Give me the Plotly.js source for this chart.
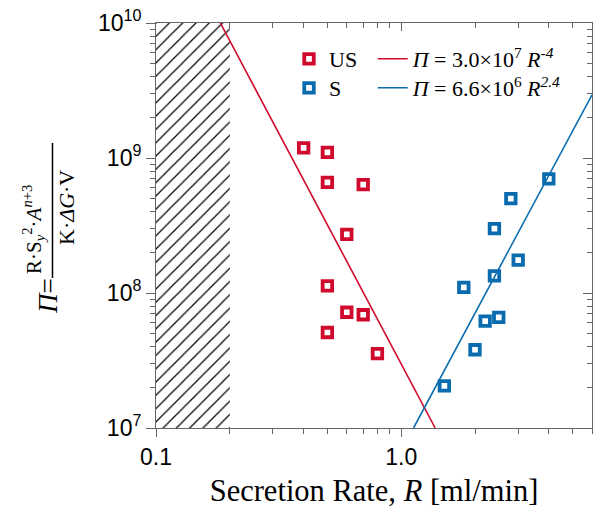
<!DOCTYPE html>
<html><head><meta charset="utf-8">
<script src="https://cdn.plot.ly/plotly-3.0.1.min.js"></script>
<style>html,body{margin:0;padding:0;background:#fff}#chart{width:595px;height:509px}</style>
</head><body><div id="chart"></div>
<script>
// Data
const usRate = [0.4, 0.5, 0.5, 0.7, 0.6, 0.5, 0.6, 0.7, 0.5, 0.8];
const usPi   = [1.19e9, 1.10e9, 6.6e8, 6.35e8, 2.72e8, 1.13e8, 7.2e7, 6.9e7, 5.1e7, 3.56e7];
const sRate  = [4.0, 2.8, 2.4, 3.0, 2.4, 1.8, 2.2, 2.5, 2.0, 1.5];
const sPi    = [7.0e8, 5.0e8, 3.0e8, 1.75e8, 1.34e8, 1.10e8, 6.2e7, 6.6e7, 3.8e7, 2.05e7];
const usFitR = [0.183, 1.376];
const usFitPi = [1e10, 1e7];
const sFitR = [1.123, 6.0];
const sFitPi = [1e7, 2.94e9];
const hatchR = [0.1, 0.2, 0.2, 0.1, 0.1];
const hatchPi = [1e7, 1e7, 1e10, 1e10, 1e7];
const xTickVals = [0.1, 1.0];
const xTickText = ['0.1', '1.0'];
const xMinorVals = [0.2, 0.3, 0.4, 0.5, 0.6, 0.7, 0.8, 0.9, 2, 3, 4, 5, 6];
const yTickVals = [1e7, 1e8, 1e9, 1e10];
const yTickText = ['10<sup>7</sup>', '10<sup>8</sup>', '10<sup>9</sup>', '10<sup>10</sup>'];
const yMinorVals = [2e7,3e7,4e7,5e7,6e7,7e7,8e7,9e7, 2e8,3e8,4e8,5e8,6e8,7e8,8e8,9e8, 2e9,3e9,4e9,5e9,6e9,7e9,8e9,9e9];
const usName = 'US';
const sName = 'S';
const usFitName = '<i>Π</i> = 3.0×10<sup>7</sup> <i>R</i><sup><i>-4</i></sup>';
const sFitName = '<i>Π</i> = 6.6×10<sup>6</sup> <i>R</i><sup><i>2.4</i></sup>';

const RED = '#cf0a2c', BLUE = '#0a6cae', AX = '#666666';
const serif = 'Liberation Serif, Times New Roman, serif';
const sans = 'Liberation Sans, Arial, sans-serif';
const xRange = [-1, Math.log10(6)];
const yRange = [7, 10];

const traces = [
  {x: hatchR, y: hatchPi, mode: 'lines', fill: 'toself', line: {width: 0, color: 'rgba(0,0,0,0)'},
   fillcolor: 'rgba(255,255,255,0)',
   fillpattern: {shape: '/', size: 9.4, solidity: 0.13, fgcolor: '#000', bgcolor: 'rgba(255,255,255,0)'},
   showlegend: false, hoverinfo: 'skip'},
  {x: usFitR, y: usFitPi, mode: 'lines', name: usFitName, line: {color: RED, width: 1.6}, legend: 'legend2'},
  {x: sFitR, y: sFitPi, mode: 'lines', name: sFitName, line: {color: BLUE, width: 1.6}, legend: 'legend4'},
  {x: usRate, y: usPi, mode: 'markers', name: usName, legend: 'legend',
   marker: {symbol: 'square-open', size: 9.5, color: RED, line: {width: 3.8, color: RED}}},
  {x: sRate, y: sPi, mode: 'markers', name: sName, legend: 'legend3',
   marker: {symbol: 'square-open', size: 9.5, color: BLUE, line: {width: 3.8, color: BLUE}}},
  {x: [], y: [], xaxis: 'x2', yaxis: 'y2', showlegend: false, hoverinfo: 'skip'}
];

const legendFont = {family: serif, size: 22, color: '#000'};
function leg(px, py) {
  return {x: (px - 156) / 436, y: 1 - (py - 23) / 405, xanchor: 'left', yanchor: 'middle',
    bgcolor: 'rgba(0,0,0,0)', borderwidth: 0, font: legendFont};
}
const layout = {
  width: 595, height: 509,
  margin: {l: 156, r: 3, t: 23, b: 81},
  paper_bgcolor: '#fff', plot_bgcolor: '#fff',
  showlegend: true,
  xaxis: {type: 'log', range: xRange, showgrid: false, zeroline: false,
    showline: true, linecolor: AX, linewidth: 1,
    ticks: 'outside', ticklen: 8, tickcolor: AX, tickwidth: 1,
    tickmode: 'array', tickvals: xTickVals, ticktext: xTickText,
    tickfont: {family: sans, size: 23, color: '#000'},
    minor: {tickmode: 'array', tickvals: xMinorVals, ticks: 'outside', ticklen: 5, tickcolor: AX, tickwidth: 1, showgrid: false},
    title: {text: 'Secretion Rate, <i>R</i> [ml/min]', font: {family: serif, size: 30.5, color: '#000'}, standoff: 11},
    automargin: false},
  yaxis: {type: 'log', range: yRange, showgrid: false, zeroline: false,
    showline: true, linecolor: AX, linewidth: 1,
    ticks: 'outside', ticklen: 9, tickcolor: AX, tickwidth: 1,
    tickmode: 'array', tickvals: yTickVals, ticktext: yTickText,
    tickfont: {family: sans, size: 23, color: '#000'},
    minor: {tickmode: 'array', tickvals: yMinorVals, ticks: 'outside', ticklen: 5, tickcolor: AX, tickwidth: 1, showgrid: false},
    automargin: false},
  xaxis2: {type: 'log', range: xRange, overlaying: 'x', side: 'top', showgrid: false, zeroline: false,
    showline: true, linecolor: AX, linewidth: 1, showticklabels: false,
    ticks: 'inside', ticklen: 8, tickcolor: AX, tickmode: 'array', tickvals: xTickVals,
    minor: {tickmode: 'array', tickvals: xMinorVals, ticks: 'inside', ticklen: 5, tickcolor: AX, showgrid: false},
    fixedrange: true},
  yaxis2: {type: 'log', range: yRange, overlaying: 'y', side: 'right', showgrid: false, zeroline: false,
    showline: true, linecolor: AX, linewidth: 1, showticklabels: false,
    ticks: 'inside', ticklen: 9, tickcolor: AX, tickmode: 'array', tickvals: yTickVals,
    minor: {tickmode: 'array', tickvals: yMinorVals, ticks: 'inside', ticklen: 5, tickcolor: AX, showgrid: false},
    fixedrange: true},
  legend: leg(289, 59),
  legend2: leg(372.7, 59),
  legend3: leg(289, 88),
  legend4: leg(372.7, 88),
  annotations: [
    {xref: 'paper', yref: 'paper', x: (34 - 156) / 436, y: 1 - (230 - 23) / 405, textangle: -90,
     xanchor: 'center', yanchor: 'middle', showarrow: false,
     text: 'R·S<sub><i>y</i></sub><sup>2</sup>·<i>A</i><sup><i>n</i>+3</sup>',
     font: {family: serif, size: 21, color: '#000'}},
    {xref: 'paper', yref: 'paper', x: (66 - 156) / 436, y: 1 - (208 - 23) / 405, textangle: -90,
     xanchor: 'center', yanchor: 'middle', showarrow: false,
     text: 'K·<i>ΔG</i>·V',
     font: {family: serif, size: 22, color: '#000'}},
    {xref: 'paper', yref: 'paper', x: (48 - 156) / 436, y: 1 - (296 - 23) / 405, textangle: -90,
     xanchor: 'center', yanchor: 'middle', showarrow: false,
     text: '<i>Π</i>=',
     font: {family: serif, size: 27, color: '#000'}}
  ],
  shapes: [
    {type: 'line', xref: 'paper', yref: 'paper', x0: (52.5 - 156) / 436, x1: (52.5 - 156) / 436,
     y0: 1 - (143 - 23) / 405, y1: 1 - (278 - 23) / 405, line: {color: '#000', width: 1.5}}
  ]
};

Plotly.newPlot('chart', traces, layout, {staticPlot: true, displayModeBar: false});
</script>
</body></html>
